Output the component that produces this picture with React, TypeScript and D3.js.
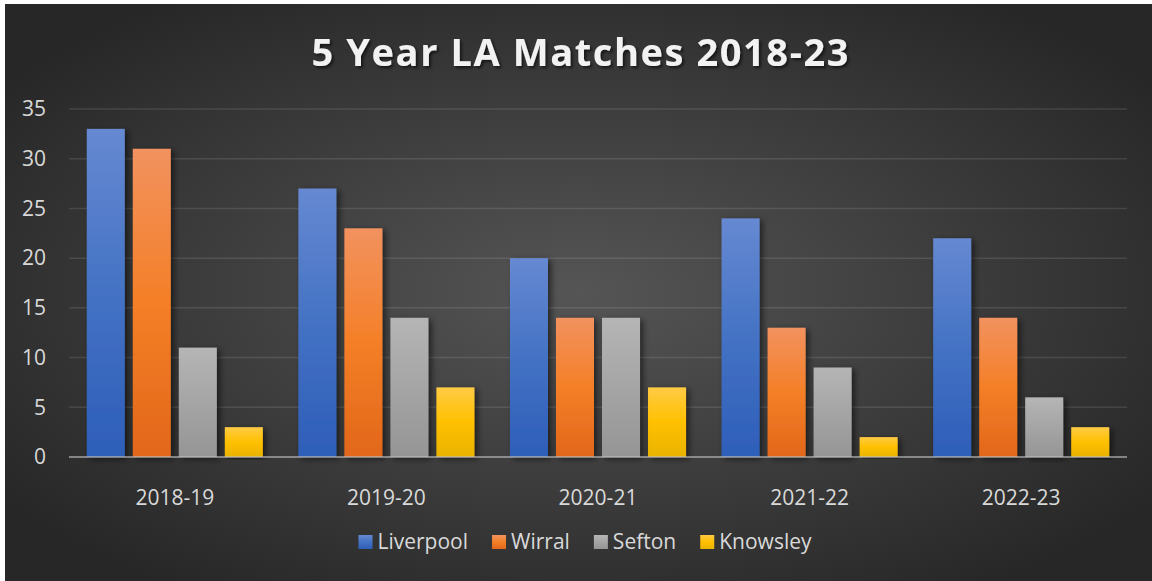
import * as d3 from "d3";
import { useEffect, useRef } from "react";

const seasons = ["2018-19", "2019-20", "2020-21", "2021-22", "2022-23"];
const areas = ["Liverpool", "Wirral", "Sefton", "Knowsley"];
const liverpool = [33, 27, 20, 24, 22];
const wirral = [31, 23, 14, 13, 14];
const sefton = [11, 14, 14, 9, 6];
const knowsley = [3, 7, 7, 2, 3];
const yTicks = [0, 5, 10, 15, 20, 25, 30, 35];
const title = "5 Year LA Matches 2018-23";

// gradient stops per series: top, middle, bottom
const palette = [
  ["#6689d2", "#4472c4", "#2d5eb9"],
  ["#f2925f", "#f47f27", "#e2671a"],
  ["#b5b5b5", "#a5a5a5", "#959595"],
  ["#ffcb45", "#ffc000", "#e9b300"],
];

const W = 1152;
const H = 581;

const App = () => {
  const ref = useRef<SVGSVGElement>(null);

  useEffect(() => {
    if (!ref.current) return;
    const svg = d3.select(ref.current);
    svg.selectAll("*").remove();

    const font = "'Open Sans', 'Noto Sans', sans-serif";
    const series = [liverpool, wirral, sefton, knowsley];
    const margin = { left: 69, right: 1127, top: 109, bottom: 457 };

    const defs = svg.append("defs");
    const bg = defs
      .append("radialGradient")
      .attr("id", "bg")
      .attr("cx", "50%")
      .attr("cy", "50%")
      .attr("r", "62%");
    bg.append("stop").attr("offset", "0%").attr("stop-color", "#555555");
    bg.append("stop").attr("offset", "100%").attr("stop-color", "#272727");

    palette.forEach((c, i) => {
      const g = defs
        .append("linearGradient")
        .attr("id", `bar${i}`)
        .attr("x1", 0)
        .attr("y1", 0)
        .attr("x2", 0)
        .attr("y2", 1);
      g.append("stop").attr("offset", "0%").attr("stop-color", c[0]);
      g.append("stop").attr("offset", "50%").attr("stop-color", c[1]);
      g.append("stop").attr("offset", "100%").attr("stop-color", c[2]);
    });

    const shadow = defs
      .append("filter")
      .attr("id", "shadow")
      .attr("x", "-30%")
      .attr("y", "-10%")
      .attr("width", "160%")
      .attr("height", "120%");
    shadow
      .append("feDropShadow")
      .attr("dx", 3)
      .attr("dy", 2)
      .attr("stdDeviation", 3)
      .attr("flood-color", "#000")
      .attr("flood-opacity", 0.55);

    const tshadow = defs.append("filter").attr("id", "tshadow");
    tshadow
      .append("feDropShadow")
      .attr("dx", 2)
      .attr("dy", 2)
      .attr("stdDeviation", 1.5)
      .attr("flood-color", "#000")
      .attr("flood-opacity", 0.6);

    // page strip + chart background
    svg.append("rect").attr("width", W).attr("height", H).attr("fill", "#fff");
    svg
      .append("rect")
      .attr("x", 5)
      .attr("y", 4)
      .attr("width", W - 5)
      .attr("height", H - 4)
      .attr("fill", "url(#bg)");

    // title
    svg
      .append("text")
      .attr("x", 580)
      .attr("y", 66)
      .attr("text-anchor", "middle")
      .attr("textLength", 537)
      .attr("lengthAdjust", "spacing")
      .attr("filter", "url(#tshadow)")
      .style("font-family", font)
      .style("font-weight", 700)
      .style("font-size", "38px")
      .style("fill", "#f2f2f2")
      .text(title);

    const x0 = d3
      .scaleBand()
      .domain(seasons)
      .range([margin.left, margin.right])
      .paddingInner(0.168)
      .paddingOuter(0.084);
    const x1 = d3
      .scaleBand()
      .domain(areas)
      .range([0, x0.bandwidth()])
      .paddingInner(0.174);
    const y = d3
      .scaleLinear()
      .domain([0, 35])
      .range([margin.bottom, margin.top]);

    // gridlines
    svg
      .append("g")
      .selectAll("line")
      .data(yTicks.filter((t) => t > 0))
      .join("line")
      .attr("x1", margin.left)
      .attr("x2", margin.right)
      .attr("y1", (d) => y(d))
      .attr("y2", (d) => y(d))
      .attr("stroke", "#ffffff")
      .attr("stroke-opacity", 0.11)
      .attr("stroke-width", 1.5);

    // y labels
    svg
      .append("g")
      .selectAll("text")
      .data(yTicks)
      .join("text")
      .attr("x", 46)
      .attr("y", (d) => y(d))
      .attr("dy", "0.35em")
      .attr("text-anchor", "end")
      .style("font-family", font)
      .style("font-size", "21px")
      .style("fill", "#d9d9d9")
      .text((d) => d);

    // bars
    const groups = svg
      .append("g")
      .selectAll("g")
      .data(seasons)
      .join("g")
      .attr("transform", (d) => `translate(${x0(d)},0)`);
    groups
      .selectAll("rect")
      .data((_d, i) => areas.map((a, k) => ({ a, k, v: series[k][i] })))
      .join("rect")
      .attr("x", (d) => x1(d.a) as number)
      .attr("y", (d) => y(d.v))
      .attr("width", x1.bandwidth())
      .attr("height", (d) => y(0) - y(d.v))
      .attr("fill", (d) => `url(#bar${d.k})`)
      .attr("filter", "url(#shadow)");

    // axis line
    svg
      .append("line")
      .attr("x1", margin.left)
      .attr("x2", margin.right)
      .attr("y1", y(0))
      .attr("y2", y(0))
      .attr("stroke", "#bfbfbf")
      .attr("stroke-opacity", 0.6)
      .attr("stroke-width", 2);

    // category labels
    svg
      .append("g")
      .selectAll("text")
      .data(seasons)
      .join("text")
      .attr("x", (d) => (x0(d) as number) + x0.bandwidth() / 2)
      .attr("y", 505)
      .attr("text-anchor", "middle")
      .style("font-family", font)
      .style("font-size", "21px")
      .style("fill", "#d9d9d9")
      .text((d) => d);

    // legend
    const legend = svg.append("g");
    let cx = 0;
    areas.forEach((a, i) => {
      const item = legend.append("g").attr("transform", `translate(${cx},0)`);
      item
        .append("rect")
        .attr("x", 0)
        .attr("y", -7)
        .attr("width", 14)
        .attr("height", 14)
        .attr("fill", `url(#bar${i})`);
      const t = item
        .append("text")
        .attr("x", 19)
        .attr("y", 0)
        .attr("dy", "0.35em")
        .style("font-family", font)
        .style("font-size", "21px")
        .style("fill", "#d9d9d9")
        .text(a);
      const tw = (t.node() as SVGTextElement).getComputedTextLength();
      cx += 19 + tw + 24;
    });
    const total = cx - 24;
    legend.attr("transform", `translate(${585 - total / 2},542)`);
  }, []);

  return (
    <svg
      ref={ref}
      width={W}
      height={H}
      style={{ position: "absolute", left: 0, top: 0, display: "block" }}
    ></svg>
  );
};

export default App;
